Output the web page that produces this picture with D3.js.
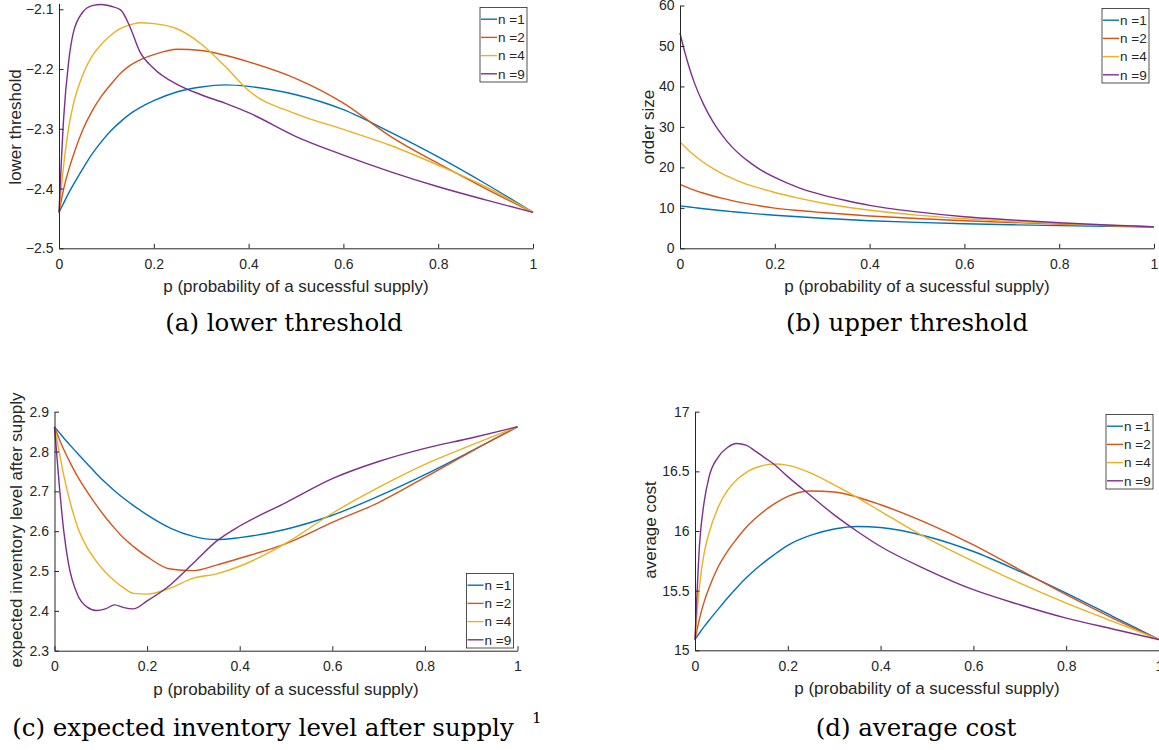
<!DOCTYPE html>
<html>
<head>
<meta charset="utf-8">
<script src="https://cdn.jsdelivr.net/npm/d3@7"></script>
<style>
  html, body { margin: 0; padding: 0; background: #fff; }
  svg { display: block; }
  text { font-family: "Liberation Sans", Arial, Helvetica, sans-serif; fill: #262626; }
  .cap { font-family: "DejaVu Serif", serif; fill: #000; }
</style>
</head>
<body>
<svg id="fig" width="1159" height="750"></svg>
<script>
// ── Data ───────────────────────────────────────────────
const P = [0, 0.01, 0.02, 0.03, 0.05, 0.07, 0.09, 0.11, 0.13, 0.15, 0.17,
           0.2, 0.25, 0.3, 0.35, 0.4, 0.5, 0.6, 0.7, 0.8, 0.9, 1];
const SERIES = ['n =1', 'n =2', 'n =4', 'n =9'];
const COLORS = ['#0072BD', '#D95319', '#EDB120', '#7E2F8E'];
const X_TICKS = [0, 0.2, 0.4, 0.6, 0.8, 1];

const lowerThreshold = [
  [-2.44, -2.424, -2.408, -2.394, -2.367, -2.342, -2.321, -2.303, -2.288, -2.275, -2.265,
   -2.253, -2.238, -2.23, -2.2265, -2.229, -2.243, -2.268, -2.306, -2.347, -2.392, -2.44],
  [-2.44, -2.40, -2.37, -2.345, -2.302, -2.27, -2.245, -2.225, -2.207, -2.194, -2.185,
   -2.176, -2.167, -2.169, -2.177, -2.188, -2.216, -2.257, -2.313, -2.358, -2.400, -2.44],
  [-2.44, -2.36, -2.30, -2.26, -2.21, -2.178, -2.158, -2.143, -2.132, -2.126, -2.1225,
   -2.124, -2.133, -2.158, -2.195, -2.236, -2.275, -2.301, -2.328, -2.361, -2.397, -2.44],
  [-2.44, -2.28, -2.19, -2.14, -2.105, -2.094, -2.092, -2.095, -2.101, -2.13, -2.17,
   -2.199, -2.226, -2.243, -2.257, -2.273, -2.313, -2.344, -2.372, -2.397, -2.419, -2.44]
];
const lowerTicks = [-2.5, -2.4, -2.3, -2.2, -2.1];

const upperThreshold = [
  [10.5, 10.35, 10.2, 10.06, 9.78, 9.52, 9.28, 9.05, 8.83, 8.63, 8.44,
   8.18, 7.78, 7.42, 7.1, 6.82, 6.4, 6.08, 5.82, 5.6, 5.43, 5.3],
  [15.8, 15.3, 14.82, 14.37, 13.6, 12.93, 12.33, 11.79, 11.3, 10.85, 10.45,
   9.93, 9.33, 8.85, 8.4, 8.0, 7.35, 6.82, 6.37, 5.97, 5.62, 5.3],
  [26.3, 25.1, 24.0, 23.0, 21.2, 19.7, 18.4, 17.3, 16.3, 15.5, 14.8,
   13.8, 12.4, 11.2, 10.2, 9.4, 8.2, 7.3, 6.6, 6.1, 5.65, 5.3],
  [53.2, 48.5, 44.5, 41.0, 35.5, 31.2, 27.8, 25.0, 22.8, 21.0, 19.4,
   17.5, 15.0, 13.2, 11.8, 10.6, 9.0, 7.8, 7.0, 6.3, 5.75, 5.3]
];
const upperTicks = [0, 10, 20, 30, 40, 50, 60];

const inventoryAfter = [
  [2.862, 2.848, 2.834, 2.821, 2.795, 2.77, 2.745, 2.722, 2.701, 2.682, 2.665,
   2.641, 2.608, 2.587, 2.579, 2.584, 2.605, 2.64, 2.688, 2.742, 2.801, 2.862],
  [2.862, 2.832, 2.805, 2.781, 2.737, 2.70, 2.666, 2.635, 2.607, 2.582, 2.562,
   2.536, 2.505, 2.501, 2.515, 2.532, 2.569, 2.622, 2.672, 2.735, 2.80, 2.862],
  [2.862, 2.80, 2.74, 2.69, 2.61, 2.56, 2.525, 2.497, 2.475, 2.457, 2.444,
   2.442, 2.457, 2.482, 2.493, 2.512, 2.57, 2.645, 2.71, 2.768, 2.816, 2.862],
  [2.862, 2.72, 2.60, 2.52, 2.44, 2.41, 2.401, 2.405, 2.415, 2.408, 2.405,
   2.425, 2.465, 2.52, 2.575, 2.613, 2.672, 2.732, 2.775, 2.808, 2.834, 2.862]
];
const inventoryTicks = [2.3, 2.4, 2.5, 2.6, 2.7, 2.8, 2.9];

const averageCost = [
  [15.09, 15.147, 15.2, 15.25, 15.345, 15.438, 15.525, 15.605, 15.677, 15.741, 15.8,
   15.88, 15.965, 16.017, 16.038, 16.029, 15.954, 15.828, 15.661, 15.48, 15.285, 15.09],
  [15.09, 15.27, 15.41, 15.52, 15.7, 15.83, 15.935, 16.03, 16.105, 16.17, 16.225,
   16.29, 16.335, 16.327, 16.283, 16.22, 16.066, 15.884, 15.675, 15.466, 15.27, 15.09],
  [15.09, 15.55, 15.82, 15.98, 16.2, 16.34, 16.43, 16.49, 16.53, 16.552, 16.562,
   16.55, 16.485, 16.386, 16.28, 16.165, 15.94, 15.745, 15.563, 15.396, 15.243, 15.09],
  [15.09, 15.9, 16.25, 16.45, 16.62, 16.70, 16.733, 16.72, 16.67, 16.615, 16.56,
   16.456, 16.294, 16.135, 15.996, 15.87, 15.675, 15.508, 15.382, 15.27, 15.179, 15.09]
];
const costTicks = [15, 15.5, 16, 16.5, 17];

const XLABEL = 'p (probability of a sucessful supply)';

// ── Panel layout ───────────────────────────────────────
const panels = [
  { data: lowerThreshold, ticks: lowerTicks, dom: [-2.5, -2.09], ylabel: 'lower threshold',
    x0: 59, x1: 533, yb: 248.3, yt: 3.3, ylx: 15.5, yly: 127, lg: [480, 7.5] },
  { data: upperThreshold, ticks: upperTicks, dom: [0, 60], ylabel: 'order size',
    x0: 680, x1: 1154, yb: 248.3, yt: 5.5, ylx: 648, yly: 127, lg: [1102, 8.5] },
  { data: inventoryAfter, ticks: inventoryTicks, dom: [2.3, 2.9], ylabel: 'expected inventory level after supply',
    x0: 54.5, x1: 517.5, yb: 650.7, yt: 411.7, ylx: 16.5, yly: 530, lg: [466.5, 573.5] },
  { data: averageCost, ticks: costTicks, dom: [15, 17], ylabel: 'average cost',
    x0: 695, x1: 1159, yb: 650.3, yt: 411.7, ylx: 650, yly: 530, lg: [1106, 414.5] }
];

const fmt = v => String(+v.toFixed(2)).replace('-', '\u2212');
const svg = d3.select('#fig');

panels.forEach(pn => {
  const x = d3.scaleLinear().domain([0, 1]).range([pn.x0, pn.x1]);
  const y = d3.scaleLinear().domain(pn.dom).range([pn.yb, pn.yt]);
  const g = svg.append('g');

  // lines
  const line = d3.line().x((d, i) => x(P[i])).y(d => y(d)).curve(d3.curveMonotoneX);
  pn.data.forEach((s, k) => {
    g.append('path').attr('d', line(s))
      .attr('fill', 'none').attr('stroke', COLORS[k]).attr('stroke-width', 1.4);
  });

  // axes (ticks inside, box off)
  const ax = g.append('g').attr('transform', `translate(0,${pn.yb})`)
    .call(d3.axisBottom(x).tickValues(X_TICKS).tickFormat(fmt)
      .tickSizeInner(-4.5).tickSizeOuter(0).tickPadding(10.5));
  const ay = g.append('g').attr('transform', `translate(${pn.x0},0)`)
    .call(d3.axisLeft(y).tickValues(pn.ticks).tickFormat(fmt)
      .tickSizeInner(-4.5).tickSizeOuter(0).tickPadding(5.5));
  [ax, ay].forEach(a => {
    a.attr('font-family', null).attr('font-size', null);
    a.selectAll('path, line').attr('stroke', '#262626');
    a.selectAll('text').attr('font-size', '14px').attr('fill', '#262626');
  });

  // labels
  g.append('text').attr('x', (pn.x0 + pn.x1) / 2).attr('y', pn.yb + 38)
    .attr('dy', '0.35em').attr('text-anchor', 'middle').attr('font-size', '17px').text(XLABEL);
  g.append('text').attr('transform', `translate(${pn.ylx},${pn.yly}) rotate(-90)`)
    .attr('dy', '0.35em').attr('text-anchor', 'middle').attr('font-size', '17px').text(pn.ylabel);

  // legend
  const [lx, ly] = pn.lg;
  const lg = g.append('g').attr('transform', `translate(${lx},${ly})`);
  lg.append('rect').attr('width', 47).attr('height', 74.5)
    .attr('fill', '#fff').attr('stroke', '#262626').attr('stroke-width', 0.8);
  SERIES.forEach((name, k) => {
    const yy = 11.7 + k * 18.2;
    lg.append('line').attr('x1', 1).attr('x2', 17).attr('y1', yy).attr('y2', yy)
      .attr('stroke', COLORS[k]).attr('stroke-width', 1.4);
    lg.append('text').attr('x', 18).attr('y', yy).attr('dy', '0.35em')
      .attr('font-size', '13.5px').text(name);
  });
});

// ── Sub-figure captions ────────────────────────────────
const caps = [
  ['(a) lower threshold', 284, 331],
  ['(b) upper threshold', 907, 331],
  ['(c) expected inventory level after supply', 263, 736],
  ['(d) average cost', 916, 736]
];
caps.forEach(([t, cx, cy]) => {
  svg.append('text').attr('class', 'cap').attr('x', cx).attr('y', cy)
    .attr('text-anchor', 'middle').attr('font-size', '24.5px').text(t);
});
svg.append('text').attr('class', 'cap').attr('x', 532).attr('y', 723)
  .attr('font-size', '15px').text('1');
</script>
</body>
</html>
